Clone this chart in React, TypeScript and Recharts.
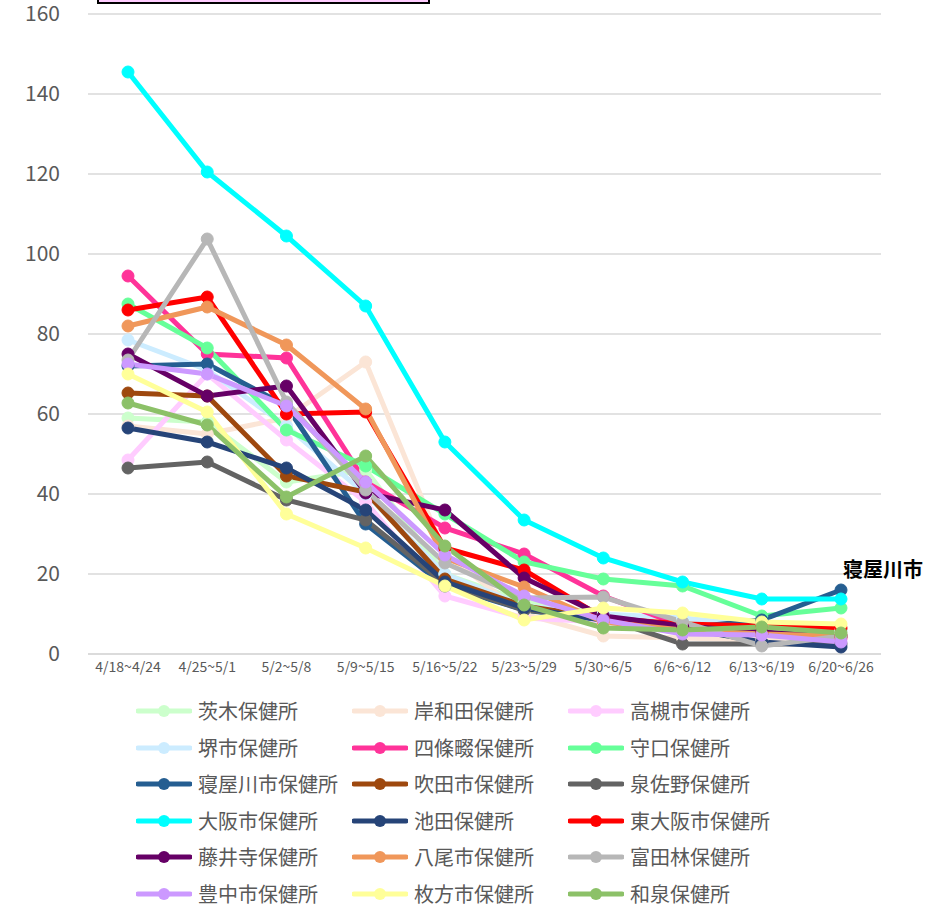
import { LineChart, Line, XAxis, YAxis, CartesianGrid } from "recharts"

const weeks = [
  "4/18~4/24", "4/25~5/1", "5/2~5/8", "5/9~5/15", "5/16~5/22",
  "5/23~5/29", "5/30~6/5", "6/6~6/12", "6/13~6/19", "6/20~6/26",
]

const ibaraki = [59, 58, 43, 46, 20, 13, 10, 8, 7, 6]
const kishiwada = [57, 55, 59, 73, 25, 10, 4.5, 4, 3.5, 5]
const takatsuki = [48.5, 70, 53.5, 38, 14.5, 9, 8, 6, 5, 4]
const sakai = [78.5, 71, 57, 40, 20, 12, 10, 9, 7, 6]
const shijonawate = [94.5, 75, 74, 43, 31.5, 25, 14.5, 7, 5, 4]
const moriguchi = [87.5, 76.5, 56, 47, 35, 23, 18.75, 17, 9.5, 11.5]
const neyagawa = [72, 72.5, 62, 32.5, 17, 11, 8.5, 6.5, 8.5, 16]
const suita = [65.25, 64.5, 44.5, 40.5, 18.75, 12, 9, 6.5, 5, 4.5]
const izumisano = [46.5, 48, 38.5, 33.5, 17.5, 11, 9, 2.5, 2.5, 2.5]
const osaka = [145.5, 120.5, 104.5, 87, 53, 33.5, 24, 18, 13.75, 13.75]
const ikeda = [56.5, 53, 46.5, 36, 18, 11.5, 8.5, 6.5, 3, 1.75]
const higashiosaka = [86, 89.25, 60, 60.5, 26.5, 21, 9, 7.5, 7, 6.5]
const fujiidera = [75, 64.5, 67, 40.25, 36, 19, 9.5, 7, 5.5, 4.5]
const yao = [82, 86.75, 77.25, 61.25, 24, 16.75, 8, 6, 5, 4.5]
const tondabayashi = [73.5, 103.75, 63, 41, 22.75, 14, 14.25, 8, 2, 4.5]
const toyonaka = [72.5, 70, 62, 43, 24.75, 14.5, 8.5, 5, 4.75, 3]
const hirakata = [70, 60.5, 35, 26.5, 17, 8.5, 11.5, 10.25, 8, 7.5]
const izumi = [62.75, 57.25, 39.25, 49.5, 27, 12.25, 6.5, 6, 6.75, 5.25]

const yTicks = [0, 20, 40, 60, 80, 100, 120, 140, 160]

const series = [
  { key: "茨木保健所", values: ibaraki, color: "#CCFFCC" },
  { key: "岸和田保健所", values: kishiwada, color: "#FBE5D6" },
  { key: "高槻市保健所", values: takatsuki, color: "#FFCCFF" },
  { key: "堺市保健所", values: sakai, color: "#CCECFF" },
  { key: "四條畷保健所", values: shijonawate, color: "#FF3399" },
  { key: "守口保健所", values: moriguchi, color: "#66FF99" },
  { key: "寝屋川市保健所", values: neyagawa, color: "#255E91" },
  { key: "吹田市保健所", values: suita, color: "#9E480E" },
  { key: "泉佐野保健所", values: izumisano, color: "#636363" },
  { key: "大阪市保健所", values: osaka, color: "#00FFFF" },
  { key: "池田保健所", values: ikeda, color: "#264478" },
  { key: "東大阪市保健所", values: higashiosaka, color: "#FF0000" },
  { key: "藤井寺保健所", values: fujiidera, color: "#660066" },
  { key: "八尾市保健所", values: yao, color: "#F0975A" },
  { key: "富田林保健所", values: tondabayashi, color: "#B7B7B7" },
  { key: "豊中市保健所", values: toyonaka, color: "#CC99FF" },
  { key: "枚方市保健所", values: hirakata, color: "#FFFF99" },
  { key: "和泉保健所", values: izumi, color: "#8CC168" },
]

const data = weeks.map((week, i) => {
  const row: Record<string, string | number> = { week }
  series.forEach((s) => {
    row[s.key] = s.values[i]
  })
  return row
})

const font = "'Noto Sans CJK JP', 'Noto Sans', sans-serif"

export default function App() {
  return (
    <div style={{ position: "absolute", left: 0, top: 0, width: 929, height: 907, background: "#fff", fontFamily: font, overflow: "hidden" }}>
      {/* clipped title box at the very top */}
      <div style={{ position: "absolute", left: 97, top: -20, width: 329, height: 20, background: "#FFCCFF", border: "2px solid #000" }} />

      <LineChart width={929} height={690} data={data} margin={{ top: 14, right: 48, left: 0, bottom: 6 }}>
        <CartesianGrid vertical={false} stroke="#D9D9D9" strokeWidth={1.5} />
        <XAxis
          dataKey="week"
          height={30}
          padding={{ left: 40, right: 40 }}
          axisLine={{ stroke: "#D9D9D9", strokeWidth: 1.5 }}
          tickLine={false}
          tickSize={0}
          tickMargin={8}
          interval={0}
          tick={{ fill: "#595959", fontSize: 14, fontFamily: font }}
        />
        <YAxis
          width={88}
          domain={[0, 160]}
          ticks={yTicks}
          axisLine={false}
          tickLine={false}
          tickSize={0}
          tickMargin={28}
          tick={{ fill: "#595959", fontSize: 21, fontFamily: font }}
        />
        {series.map((s) => (
          <Line
            key={s.key}
            type="linear"
            dataKey={s.key}
            stroke={s.color}
            strokeWidth={5}
            dot={{ r: 6, fill: s.color, stroke: s.color, strokeWidth: 1 }}
            isAnimationActive={false}
          />
        ))}
      </LineChart>

      <div style={{ position: "absolute", left: 843, top: 555, fontSize: 20, fontWeight: 700, color: "#000", lineHeight: "28px" }}>寝屋川市</div>

      {series.map((s, i) => {
        const col = i % 3
        const row = Math.floor(i / 3)
        const x = 136 + col * 216
        const y = 711 + row * 36.6
        return (
          <div key={s.key} style={{ position: "absolute", left: x, top: y - 10, height: 20, display: "flex", alignItems: "center" }}>
            <svg width={56} height={16}>
              <line x1={2} y1={8} x2={54} y2={8} stroke={s.color} strokeWidth={5} strokeLinecap="round" />
              <circle cx={28} cy={8} r={6} fill={s.color} />
            </svg>
            <span style={{ marginLeft: 6, fontSize: 20, lineHeight: "20px", color: "#595959", whiteSpace: "nowrap" }}>{s.key}</span>
          </div>
        )
      })}
    </div>
  )
}
